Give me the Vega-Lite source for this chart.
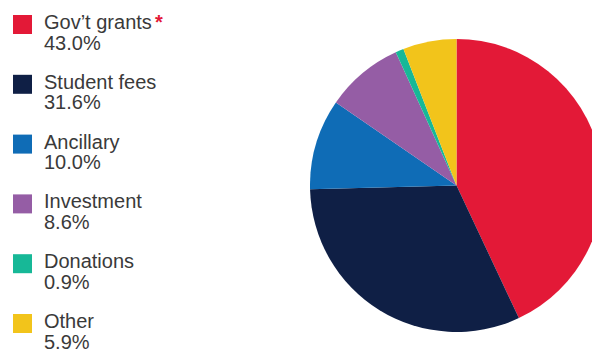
{
  "$schema": "https://vega.github.io/schema/vega-lite/v6.json",
  "padding": 0,
  "autosize": {"type": "pad"},
  "background": "white",
  "spacing": 0,
  "bounds": "flush",
  "config": {"view": {"stroke": null}, "font": "Liberation Sans"},
  "data": {
    "values": [
      {"idx": 1, "name": "Gov’t grants", "share": 0.430, "note": "*"},
      {"idx": 2, "name": "Student fees", "share": 0.316, "note": ""},
      {"idx": 3, "name": "Ancillary", "share": 0.100, "note": ""},
      {"idx": 4, "name": "Investment", "share": 0.086, "note": ""},
      {"idx": 5, "name": "Donations", "share": 0.009, "note": ""},
      {"idx": 6, "name": "Other", "share": 0.059, "note": ""}
    ]
  },
  "hconcat": [
    {
      "width": 310,
      "height": 349,
      "encoding": {
        "y": {"field": "name", "type": "nominal", "sort": null, "scale": {"type": "point", "range": [24.5, 323.5], "padding": 0}, "axis": null}
      },
      "layer": [
        {
          "mark": {"type": "square", "size": 361, "opacity": 1, "clip": true},
          "encoding": {
            "x": {"datum": "swatch", "type": "nominal", "scale": {"type": "point", "domain": ["swatch", "label"], "range": [22.5, 44], "padding": 0}, "axis": null},
            "color": {"field": "name", "type": "nominal", "sort": null, "scale": {"domain": ["Gov’t grants", "Student fees", "Ancillary", "Investment", "Donations", "Other"], "range": ["#E31937", "#0F1F45", "#0F6CB6", "#955DA5", "#17B897", "#F2C41B"]}, "legend": null}
          }
        },
        {
          "mark": {"type": "text", "align": "left", "baseline": "alphabetic", "dy": 4.5, "fontSize": 20, "color": "#3a3a3a", "clip": true},
          "encoding": {
            "x": {"datum": "label", "type": "nominal"},
            "text": {"field": "name"}
          }
        },
        {
          "mark": {"type": "text", "align": "left", "baseline": "alphabetic", "dy": 25, "fontSize": 20, "color": "#3a3a3a", "clip": true},
          "encoding": {
            "x": {"datum": "label", "type": "nominal"},
            "text": {"field": "share", "type": "quantitative", "format": ".1%"}
          }
        },
        {
          "transform": [{"filter": "datum.note != ''"}],
          "mark": {"type": "text", "align": "left", "baseline": "alphabetic", "dy": 4.5, "dx": 111, "fontSize": 20, "fontWeight": "bold", "color": "#E31937", "clip": true},
          "encoding": {
            "x": {"datum": "label", "type": "nominal"},
            "text": {"field": "note"}
          }
        }
      ]
    },
    {
      "width": 282,
      "height": 349,
      "mark": {"type": "arc", "outerRadius": 146.5, "xOffset": 5.5, "yOffset": 11, "clip": true},
      "encoding": {
        "theta": {"field": "share", "type": "quantitative", "stack": true},
        "order": {"field": "idx", "type": "quantitative"},
        "color": {"field": "name", "type": "nominal", "sort": null, "scale": {"domain": ["Gov’t grants", "Student fees", "Ancillary", "Investment", "Donations", "Other"], "range": ["#E31937", "#0F1F45", "#0F6CB6", "#955DA5", "#17B897", "#F2C41B"]}, "legend": null}
      }
    }
  ]
}
